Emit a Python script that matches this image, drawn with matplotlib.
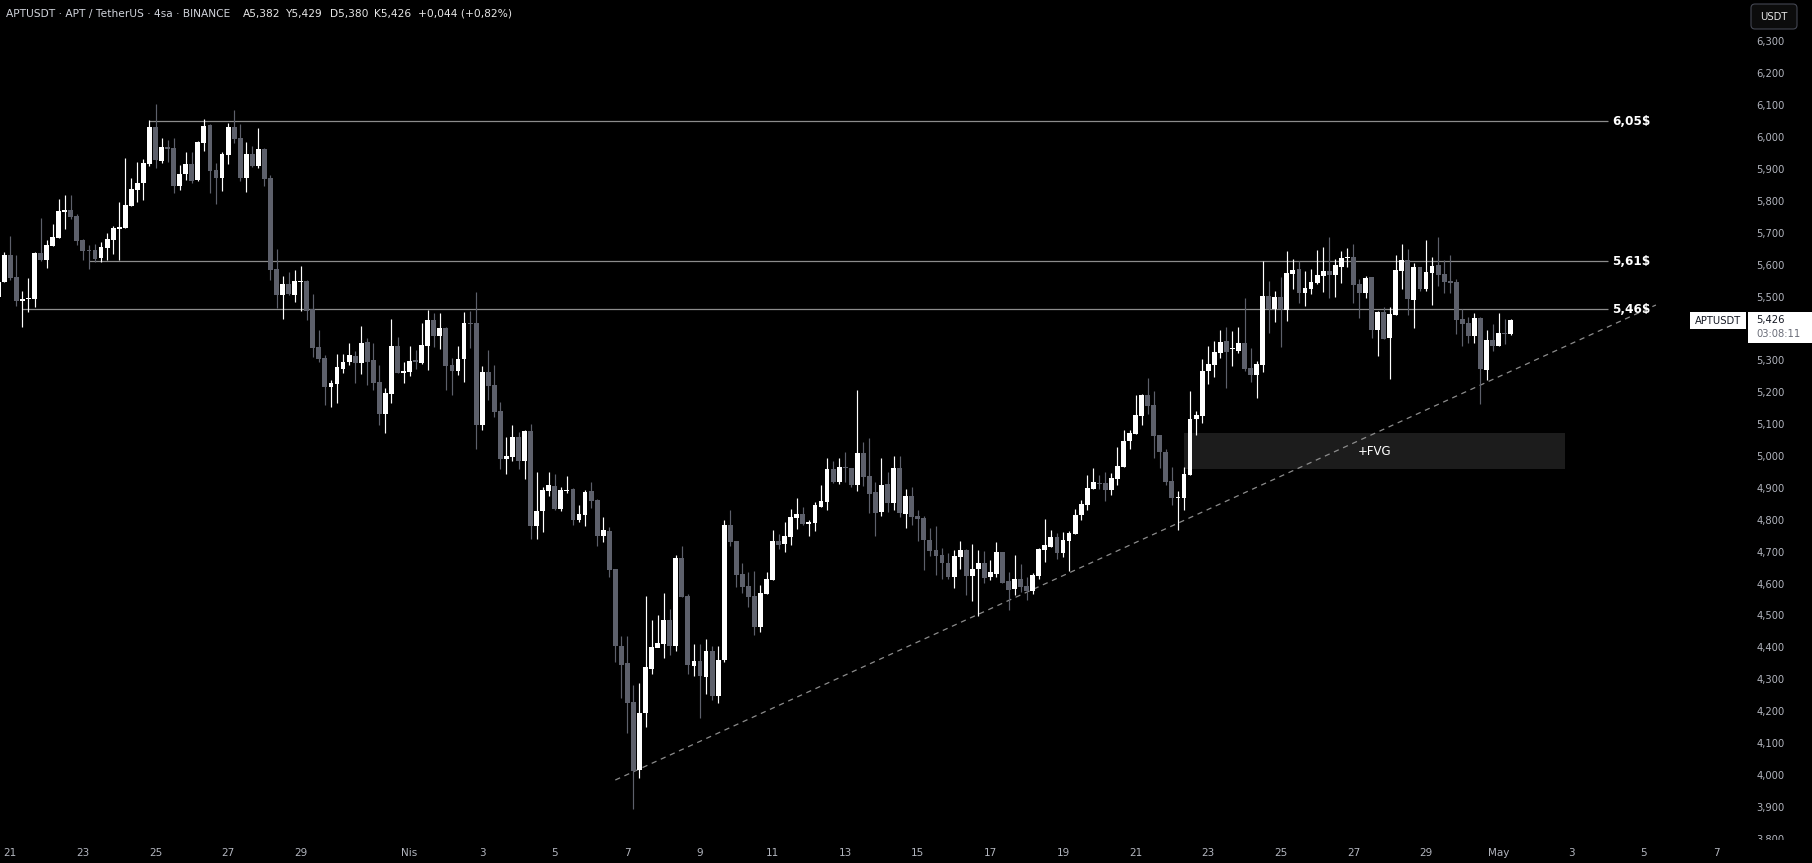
import matplotlib
matplotlib.use("Agg")
import matplotlib.pyplot as plt
from matplotlib.patches import Rectangle, FancyBboxPatch
from matplotlib.transforms import IdentityTransform
import numpy as np

plt.rcParams['font.family'] = ['DejaVu Sans']
plt.rcParams['lines.scale_dashes'] = False

W, H, DPI = 1812, 863, 100

# ---------------- data (4h candles, index 0 = 21 Mar 00:00) ----------------
first_index = -2
opens = [
    5.500, 5.547, 5.630, 5.561, 5.487, 5.492, 5.492, 5.636, 5.614, 5.660,
    5.685, 5.766, 5.770, 5.753, 5.676, 5.645, 5.645, 5.622, 5.653, 5.678,
    5.713, 5.715, 5.785, 5.835, 5.856, 5.917, 6.032, 5.925, 5.969, 5.965,
    5.848, 5.883, 5.916, 5.864, 5.981, 6.039, 5.897, 5.872, 5.944, 6.033,
    5.997, 5.872, 5.948, 5.908, 5.963, 5.873, 5.586, 5.505, 5.540, 5.505,
    5.546, 5.549, 5.460, 5.342, 5.307, 5.216, 5.227, 5.273, 5.295, 5.314,
    5.292, 5.358, 5.301, 5.232, 5.132, 5.195, 5.345, 5.260, 5.263, 5.298,
    5.292, 5.345, 5.426, 5.376, 5.401, 5.285, 5.267, 5.304, 5.417, 5.417,
    5.097, 5.263, 5.223, 5.141, 4.990, 4.997, 5.060, 4.984, 5.078, 4.780,
    4.827, 4.889, 4.906, 4.834, 4.891, 4.897, 4.799, 4.815, 4.890, 4.862,
    4.749, 4.765, 4.646, 4.404, 4.351, 4.228, 4.016, 4.195, 4.333, 4.399,
    4.410, 4.486, 4.405, 4.680, 4.561, 4.342, 4.358, 4.308, 4.390, 4.248,
    4.361, 4.785, 4.734, 4.631, 4.593, 4.562, 4.465, 4.568, 4.612, 4.734,
    4.725, 4.747, 4.807, 4.819, 4.788, 4.791, 4.841, 4.857, 4.960, 4.919,
    4.966, 4.963, 4.910, 5.010, 4.938, 4.888, 4.825, 4.913, 4.854, 4.963,
    4.819, 4.876, 4.813, 4.807, 4.737, 4.705, 4.690, 4.665, 4.621, 4.683,
    4.705, 4.624, 4.646, 4.665, 4.620, 4.630, 4.699, 4.608, 4.583, 4.614,
    4.592, 4.577, 4.624, 4.705, 4.715, 4.746, 4.696, 4.734, 4.755, 4.815,
    4.846, 4.897, 4.915, 4.915, 4.893, 4.928, 4.965, 5.047, 5.069, 5.125,
    5.191, 5.160, 5.066, 5.013, 4.922, 4.868, 4.868, 4.940, 5.116, 5.125,
    5.266, 5.285, 5.323, 5.361, 5.335, 5.329, 5.354, 5.276, 5.254, 5.285,
    5.502, 5.461, 5.499, 5.458, 5.572, 5.586, 5.511, 5.524, 5.543, 5.565,
    5.580, 5.568, 5.593, 5.620, 5.624, 5.539, 5.511, 5.561, 5.395, 5.451,
    5.370, 5.442, 5.580, 5.615, 5.489, 5.593, 5.524, 5.574, 5.599, 5.571,
    5.549, 5.546, 5.430, 5.417, 5.376, 5.433, 5.270, 5.364, 5.345, 5.386,
    5.382,
]
highs = [
    5.560, 5.639, 5.690, 5.630, 5.517, 5.557, 5.640, 5.746, 5.677, 5.726,
    5.806, 5.818, 5.818, 5.758, 5.680, 5.662, 5.664, 5.672, 5.699, 5.721,
    5.796, 5.934, 5.872, 5.922, 5.930, 6.054, 6.104, 5.997, 5.991, 5.997,
    5.912, 5.953, 5.953, 5.988, 6.058, 6.041, 5.919, 5.952, 6.043, 6.085,
    6.041, 5.985, 5.972, 6.028, 5.967, 5.881, 5.649, 5.563, 5.576, 5.583,
    5.596, 5.551, 5.508, 5.395, 5.316, 5.238, 5.320, 5.320, 5.353, 5.330,
    5.408, 5.370, 5.354, 5.285, 5.213, 5.430, 5.373, 5.295, 5.345, 5.332,
    5.417, 5.458, 5.448, 5.448, 5.405, 5.307, 5.345, 5.452, 5.455, 5.514,
    5.282, 5.332, 5.285, 5.169, 5.060, 5.097, 5.075, 5.082, 5.100, 4.950,
    4.903, 4.950, 4.944, 4.903, 4.937, 4.900, 4.846, 4.893, 4.918, 4.865,
    4.809, 4.777, 4.646, 4.435, 4.435, 4.282, 4.288, 4.561, 4.486, 4.501,
    4.570, 4.520, 4.691, 4.718, 4.567, 4.410, 4.410, 4.426, 4.405, 4.405,
    4.800, 4.832, 4.734, 4.665, 4.637, 4.640, 4.597, 4.637, 4.769, 4.756,
    4.794, 4.835, 4.869, 4.841, 4.800, 4.857, 4.910, 4.994, 4.985, 4.995,
    5.014, 4.963, 5.208, 5.045, 5.057, 4.919, 4.995, 4.951, 5.001, 5.001,
    4.898, 4.904, 4.832, 4.813, 4.774, 4.780, 4.711, 4.696, 4.705, 4.733,
    4.708, 4.724, 4.705, 4.702, 4.674, 4.730, 4.699, 4.636, 4.690, 4.661,
    4.621, 4.633, 4.711, 4.802, 4.768, 4.759, 4.762, 4.765, 4.834, 4.862,
    4.940, 4.962, 4.940, 4.950, 4.947, 5.028, 5.081, 5.081, 5.191, 5.194,
    5.245, 5.204, 5.066, 5.022, 4.965, 4.890, 4.965, 5.204, 5.141, 5.304,
    5.345, 5.361, 5.395, 5.404, 5.392, 5.404, 5.495, 5.339, 5.298, 5.611,
    5.549, 5.517, 5.561, 5.643, 5.618, 5.611, 5.580, 5.586, 5.646, 5.655,
    5.687, 5.618, 5.643, 5.652, 5.665, 5.555, 5.564, 5.561, 5.455, 5.467,
    5.467, 5.630, 5.665, 5.649, 5.605, 5.593, 5.677, 5.624, 5.687, 5.615,
    5.630, 5.555, 5.461, 5.436, 5.448, 5.436, 5.395, 5.414, 5.448, 5.430,
    5.429,
]
lows = [
    5.463, 5.547, 5.551, 5.471, 5.405, 5.453, 5.468, 5.611, 5.590, 5.657,
    5.685, 5.712, 5.743, 5.662, 5.614, 5.586, 5.609, 5.609, 5.616, 5.634,
    5.616, 5.715, 5.785, 5.797, 5.804, 5.910, 5.904, 5.920, 5.922, 5.825,
    5.835, 5.866, 5.856, 5.862, 5.956, 5.825, 5.791, 5.831, 5.917, 5.981,
    5.862, 5.828, 5.906, 5.902, 5.846, 5.552, 5.464, 5.430, 5.505, 5.483,
    5.455, 5.426, 5.310, 5.295, 5.161, 5.155, 5.167, 5.261, 5.285, 5.230,
    5.258, 5.224, 5.208, 5.098, 5.073, 5.167, 5.260, 5.230, 5.251, 5.273,
    5.289, 5.270, 5.342, 5.336, 5.207, 5.191, 5.254, 5.232, 5.339, 5.022,
    5.082, 5.176, 5.122, 4.959, 4.944, 4.984, 4.959, 4.928, 4.740, 4.740,
    4.762, 4.875, 4.831, 4.828, 4.884, 4.784, 4.793, 4.781, 4.837, 4.718,
    4.730, 4.622, 4.355, 4.242, 4.132, 3.894, 3.991, 4.151, 4.317, 4.401,
    4.368, 4.377, 4.390, 4.559, 4.317, 4.311, 4.179, 4.255, 4.236, 4.226,
    4.355, 4.719, 4.590, 4.571, 4.527, 4.440, 4.449, 4.568, 4.612, 4.709,
    4.700, 4.722, 4.772, 4.785, 4.750, 4.766, 4.841, 4.832, 4.916, 4.913,
    4.919, 4.904, 4.891, 4.907, 4.822, 4.750, 4.813, 4.825, 4.832, 4.810,
    4.775, 4.785, 4.734, 4.642, 4.686, 4.627, 4.614, 4.614, 4.586, 4.646,
    4.564, 4.545, 4.498, 4.602, 4.611, 4.621, 4.602, 4.517, 4.564, 4.574,
    4.548, 4.567, 4.614, 4.668, 4.715, 4.677, 4.683, 4.639, 4.755, 4.799,
    4.831, 4.897, 4.896, 4.859, 4.878, 4.909, 4.965, 5.022, 5.069, 5.097,
    5.132, 4.994, 4.962, 4.909, 4.846, 4.768, 4.831, 4.940, 5.066, 5.102,
    5.226, 5.248, 5.307, 5.214, 5.282, 5.323, 5.266, 5.232, 5.182, 5.263,
    5.386, 5.420, 5.342, 5.423, 5.524, 5.480, 5.470, 5.508, 5.539, 5.514,
    5.495, 5.499, 5.542, 5.593, 5.480, 5.433, 5.495, 5.370, 5.314, 5.367,
    5.241, 5.442, 5.524, 5.442, 5.401, 5.517, 5.517, 5.473, 5.533, 5.511,
    5.511, 5.383, 5.345, 5.354, 5.354, 5.163, 5.238, 5.329, 5.345, 5.351,
    5.380,
]
closes = [
    5.547, 5.630, 5.559, 5.487, 5.492, 5.495, 5.636, 5.614, 5.662, 5.687,
    5.768, 5.772, 5.749, 5.674, 5.643, 5.643, 5.618, 5.655, 5.680, 5.715,
    5.718, 5.787, 5.837, 5.856, 5.919, 6.032, 5.929, 5.969, 5.963, 5.848,
    5.885, 5.916, 5.862, 5.986, 6.035, 5.894, 5.872, 5.948, 6.033, 5.994,
    5.872, 5.948, 5.908, 5.963, 5.869, 5.583, 5.505, 5.540, 5.507, 5.549,
    5.549, 5.456, 5.339, 5.305, 5.216, 5.229, 5.279, 5.295, 5.317, 5.292,
    5.354, 5.295, 5.229, 5.132, 5.198, 5.345, 5.260, 5.267, 5.298, 5.296,
    5.348, 5.426, 5.376, 5.401, 5.282, 5.267, 5.304, 5.417, 5.415, 5.097,
    5.263, 5.220, 5.138, 4.990, 5.000, 5.060, 4.984, 5.078, 4.780, 4.828,
    4.894, 4.909, 4.834, 4.893, 4.893, 4.799, 4.818, 4.887, 4.859, 4.749,
    4.768, 4.642, 4.404, 4.345, 4.226, 4.013, 4.195, 4.339, 4.401, 4.414,
    4.486, 4.405, 4.680, 4.559, 4.346, 4.358, 4.311, 4.390, 4.248, 4.361,
    4.785, 4.731, 4.628, 4.590, 4.559, 4.465, 4.571, 4.615, 4.735, 4.722,
    4.750, 4.810, 4.819, 4.788, 4.794, 4.847, 4.860, 4.960, 4.919, 4.966,
    4.963, 4.910, 5.010, 4.935, 4.882, 4.822, 4.910, 4.854, 4.963, 4.822,
    4.876, 4.810, 4.803, 4.737, 4.702, 4.686, 4.665, 4.621, 4.686, 4.705,
    4.624, 4.646, 4.665, 4.617, 4.636, 4.699, 4.602, 4.580, 4.614, 4.589,
    4.577, 4.627, 4.708, 4.721, 4.746, 4.696, 4.737, 4.759, 4.815, 4.849,
    4.900, 4.918, 4.913, 4.893, 4.931, 4.969, 5.047, 5.072, 5.129, 5.191,
    5.157, 5.063, 5.013, 4.918, 4.868, 4.871, 4.944, 5.116, 5.129, 5.266,
    5.288, 5.326, 5.357, 5.326, 5.337, 5.354, 5.273, 5.254, 5.288, 5.502,
    5.461, 5.499, 5.461, 5.574, 5.583, 5.511, 5.527, 5.546, 5.568, 5.580,
    5.568, 5.599, 5.621, 5.622, 5.536, 5.511, 5.558, 5.395, 5.451, 5.367,
    5.445, 5.583, 5.615, 5.492, 5.593, 5.524, 5.577, 5.596, 5.568, 5.546,
    5.542, 5.426, 5.414, 5.376, 5.433, 5.273, 5.364, 5.345, 5.386, 5.383,
    5.426,
]
candles_per_day = 6

xtick_days = [0, 2, 4, 6, 8, 11, 13, 15, 17, 19, 21, 23, 25, 27, 29, 31,
              33, 35, 37, 39, 41, 43, 45, 47]
xtick_labels = ['21', '23', '25', '27', '29', 'Nis', '3', '5', '7', '9', '11',
                '13', '15', '17', '19', '21', '23', '25', '27', '29', 'May',
                '3', '5', '7']

ytick_values = [3.8, 3.9, 4.0, 4.1, 4.2, 4.3, 4.4, 4.5, 4.6, 4.7, 4.8, 4.9,
                5.0, 5.1, 5.2, 5.3, 5.5, 5.6, 5.7, 5.8, 5.9, 6.0, 6.1, 6.2, 6.3]
ytick_labels = ['3,800', '3,900', '4,000', '4,100', '4,200', '4,300', '4,400',
                '4,500', '4,600', '4,700', '4,800', '4,900', '5,000', '5,100',
                '5,200', '5,300', '5,500', '5,600', '5,700', '5,800', '5,900',
                '6,000', '6,100', '6,200', '6,300']

level_prices = [6.05, 5.61, 5.46]
level_labels = ['6,05$', '5,61$', '5,46$']
level_starts = [23, 13, 2]
level_end = 264

fvg_x = [194, 257]
fvg_y = [4.959, 5.072]
fvg_label = '+FVG'

trend_x = [100, 272]
trend_y = [3.984, 5.4735]

header_parts = ['APTUSDT · APT / TetherUS · 4sa · BINANCE', 'A5,382', 'Y5,429',
                'D5,380', 'K5,426', '+0,044 (+0,82%)']
last_price_label = '5,426'
countdown_label = '03:08:11'
symbol_label = 'APTUSDT'
currency_label = 'USDT'

# ---------------- styling ----------------
BG = '#000000'
UP = '#ffffff'
DOWN = '#5d606b'
AXIS_TXT = '#b2b5be'
LEVEL_C = '#8c8c8c'

fig = plt.figure(figsize=(W / DPI, H / DPI), dpi=DPI, facecolor=BG)
ax_left_px, ax_right_px, ax_top_px, ax_bottom_px = 0, 1745, 0, 841
ax = fig.add_axes([ax_left_px / W, (H - ax_bottom_px) / H,
                   (ax_right_px - ax_left_px) / W, (ax_bottom_px - ax_top_px) / H])
ax.set_facecolor(BG)
for s in ax.spines.values():
    s.set_visible(False)

# pixel model: x_px = 10.3 + 6.05 * i ; y_px = 456 - (P - 5) * 318.9
px_per_candle = 6.05
x0_px = 10.3
ax.set_xlim((ax_left_px - x0_px) / px_per_candle, (ax_right_px - x0_px) / px_per_candle)
px_per_unit = 318.9
ax.set_ylim(5 - (ax_bottom_px - 456) / px_per_unit, 5 + (456 - ax_top_px) / px_per_unit)

o = np.array(opens); h = np.array(highs); l = np.array(lows); c = np.array(closes)
x = np.arange(len(o)) + first_index
up = c >= o
cols = np.where(up, UP, DOWN)

ax.vlines(x, l, h, colors=cols, linewidth=0.85, zorder=2)
body_bottom = np.minimum(o, c)
body_h = np.maximum(np.abs(c - o), 0.0035)
ax.bar(x, body_h, bottom=body_bottom, width=0.8, color=cols, linewidth=0,
       zorder=3)

# horizontal levels
for p, lab, st in zip(level_prices, level_labels, level_starts):
    ax.hlines(p, st, level_end, colors=LEVEL_C, linewidth=0.9, zorder=1)
    ax.text(level_end + 0.8, p, lab, color='white', fontsize=8.7,
            fontweight='bold', ha='left', va='center', zorder=5)

# FVG box
ax.add_patch(Rectangle((fvg_x[0], fvg_y[0]), fvg_x[1] - fvg_x[0], fvg_y[1] - fvg_y[0],
                       facecolor='#1c1c1c', edgecolor='none', zorder=0.5))
ax.text((fvg_x[0] + fvg_x[1]) / 2, (fvg_y[0] + fvg_y[1]) / 2, fvg_label,
        color='white', fontsize=8.5, ha='center', va='center', zorder=5)

# trend line
ax.plot(trend_x, trend_y, color='#8c8c8c', linewidth=0.9,
        linestyle=(0, (3.8, 3.4)), zorder=1.5)

# axes ticks
ax.set_xticks([d * candles_per_day for d in xtick_days])
ax.set_xticklabels(xtick_labels)
ax.tick_params(axis='x', length=0, pad=5, labelsize=7.5, labelcolor=AXIS_TXT)
ax.yaxis.tick_right()
ax.set_yticks(ytick_values)
ax.set_yticklabels(ytick_labels)
ax.tick_params(axis='y', length=0, pad=8.4, labelsize=7.2, labelcolor=AXIS_TXT)

# cover bottom-right corner (time axis under price scale)
fig.add_artist(Rectangle((ax_right_px, 0), W - ax_right_px, H - 840,
                         transform=IdentityTransform(), facecolor=BG,
                         edgecolor='none', zorder=2))

def fy(py):
    return 1 - py / H

# header
header_x = [6, 243, 286, 330, 374, 418]
header_cols = ['#d1d4dc', '#e6e6e6', '#e6e6e6', '#e6e6e6', '#e6e6e6', '#e6e6e6']
for txt, px, col in zip(header_parts, header_x, header_cols):
    fig.text(px / W, fy(14), txt, color=col, fontsize=7.7, ha='left', va='center')

# symbol label + last price box
fig.add_artist(Rectangle((1690, H - 329), 56, 17, transform=IdentityTransform(),
                         facecolor='white', edgecolor='none', zorder=4))
fig.text(1718 / W, fy(320.5), symbol_label, color='#131722', fontsize=7.2,
         ha='center', va='center', zorder=5)
fig.add_artist(Rectangle((1748, H - 343), 64, 31, transform=IdentityTransform(),
                         facecolor='white', edgecolor='none', zorder=4))
fig.text(1756 / W, fy(320), last_price_label, color='#131722', fontsize=7.2,
         ha='left', va='center', zorder=5)
fig.text(1756 / W, fy(334), countdown_label, color='#6a6d78', fontsize=7.2,
         ha='left', va='center', zorder=5)

# currency button
fig.add_artist(FancyBboxPatch((1751, H - 29), 46, 25,
                              boxstyle='round,pad=0,rounding_size=4',
                              transform=IdentityTransform(), facecolor='#0c0c0c',
                              edgecolor='#434651', linewidth=0.8, zorder=4))
fig.text(1774 / W, fy(16.5), currency_label, color='#e6e6e6', fontsize=7.2,
         ha='center', va='center', zorder=5)

fig.savefig('out.png', dpi=DPI, facecolor=BG)
